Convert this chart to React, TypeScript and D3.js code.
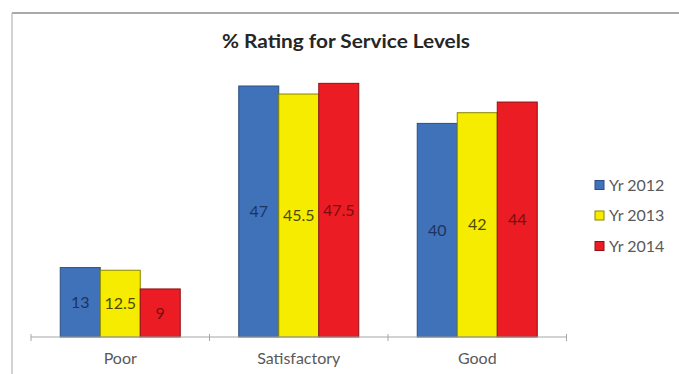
import React from "react";
import * as d3 from "d3";

const categories = ["Poor", "Satisfactory", "Good"];
const seriesNames = ["Yr 2012", "Yr 2013", "Yr 2014"];
const yr2012 = [13, 47, 40];
const yr2013 = [12.5, 45.5, 42];
const yr2014 = [9, 47.5, 44];
const seriesValues = [yr2012, yr2013, yr2014];
const fills = ["#3f72b9", "#f6ec00", "#ec1c24"];
const strokes = ["#2b4f80", "#8a8400", "#8e1015"];
const labelColors = ["#1d3461", "#4d4a00", "#7a0d10"];

const W = 679;
const H = 374;

export default function App() {
  const x0 = d3.scaleBand<string>().domain(categories).range([31, 566.5]).padding(0);
  const x1 = d3
    .scaleBand<string>()
    .domain(seriesNames)
    .range([0, x0.bandwidth()])
    .paddingInner(0)
    .paddingOuter(0.731);
  const y = d3.scaleLinear().domain([0, 50]).range([337, 70]);
  const font = "Lato, 'Open Sans', sans-serif";
  const ticks = [31, ...categories.map((c) => (x0(c) as number) + x0.bandwidth())];

  return (
    <svg
      width={W}
      height={H}
      style={{ position: "absolute", left: 0, top: 0 }}
      fontFamily={font}
    >
      <rect x={0} y={0} width={W} height={H} fill="#ffffff" />
      <line x1={12} y1={13} x2={W} y2={13} stroke="#8c8c8c" strokeWidth={1.5} />
      <line x1={12} y1={13} x2={12} y2={H} stroke="#b5b5b5" strokeWidth={1.2} />
      <text
        x={346}
        y={48}
        textAnchor="middle"
        fontSize={19}
        fontWeight="bold"
        fill="#262626"
        textLength={248}
        lengthAdjust="spacingAndGlyphs"
      >
        % Rating for Service Levels
      </text>
      {categories.map((c, ci) =>
        seriesNames.map((s, si) => {
          const v = seriesValues[si][ci];
          const bx = (x0(c) as number) + (x1(s) as number);
          const by = y(v);
          const bh = y(0) - y(v);
          return (
            <g key={c + s}>
              <rect
                x={bx}
                y={by}
                width={x1.bandwidth()}
                height={bh}
                fill={fills[si]}
                stroke={strokes[si]}
                strokeWidth={1}
              />
              <text
                x={bx + x1.bandwidth() / 2}
                y={by + bh / 2}
                dy="0.35em"
                textAnchor="middle"
                fontSize={16}
                fill={labelColors[si]}
              >
                {v}
              </text>
            </g>
          );
        })
      )}
      <line x1={31} y1={337} x2={566.5} y2={337} stroke="#a6a6a6" strokeWidth={1} />
      {ticks.map((t, i) => (
        <line key={i} x1={t} y1={334} x2={t} y2={341} stroke="#a6a6a6" strokeWidth={1} />
      ))}
      {categories.map((c) => (
        <text
          key={c}
          x={(x0(c) as number) + x0.bandwidth() / 2}
          y={364}
          textAnchor="middle"
          fontSize={16}
          fill="#595959"
        >
          {c}
        </text>
      ))}
      {seriesNames.map((s, i) => (
        <g key={s} transform={`translate(595, ${185 + i * 30.5})`}>
          <rect x={0} y={-4.5} width={9} height={9} fill={fills[i]} stroke={strokes[i]} strokeWidth={1} />
          <text x={14} y={0} dy="0.35em" fontSize={16} fill="#595959">
            {s}
          </text>
        </g>
      ))}
    </svg>
  );
}
